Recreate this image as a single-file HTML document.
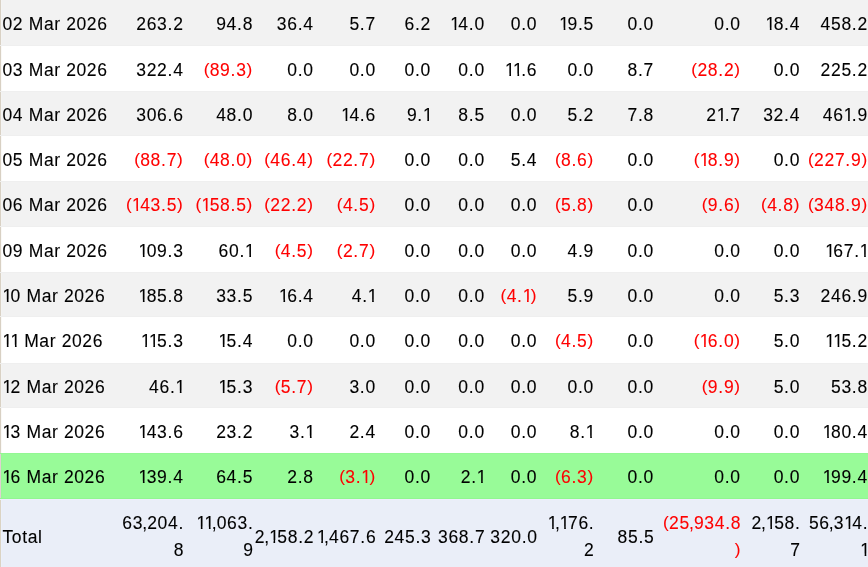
<!DOCTYPE html><html><head><meta charset='utf-8'><title>Daily table</title><style>

html,body{margin:0;padding:0;background:#fff;}
body{width:868px;height:567px;overflow:hidden;position:relative;font-family:"Liberation Sans",Arial,sans-serif;font-size:17.5px;letter-spacing:0.72px;color:#000;-webkit-text-stroke:0.1px currentColor}
table{position:absolute;left:0;top:0;border-collapse:collapse;table-layout:fixed;width:868.9px;}
td{padding:0 1.0px 0 0;text-align:right;vertical-align:top;white-space:nowrap;line-height:27px;overflow:visible}
td.d{text-align:left;padding-left:2.5px;letter-spacing:0.62px}
tr.g td{background-color:#f2f2f2}
tr.w td{background-color:#fff}
tr.hl td{background-color:#98fb98}
tr.t td{background-color:#eaeef8;vertical-align:middle;padding-right:0.5px}
tr.g td.d{background-image:linear-gradient(to right,#d9d1c4 0,#d9d1c4 1px,#f4f4f3 1px,#f4f4f3 2px,transparent 2px)}
tr.w td.d{background-image:linear-gradient(to right,#d8d0c3 0,#d8d0c3 1px,#faf9f7 1px,#faf9f7 2px,transparent 2px)}
tr.hl td.d{background-image:linear-gradient(to right,#dfd1d0 0,#dfd1d0 1px,#97f897 1px,#97f897 2px,transparent 2px)}
tr.t td.d{background-image:linear-gradient(to right,#dbd3c3 0,#dbd3c3 1px,#ebf0fb 1px,#ebf0fb 2px,transparent 2px)}
tr.g td{box-shadow:inset 0 1px 0 #efefef,inset 0 -1px 0 #efefef}
tr.g.first td{box-shadow:inset 0 -1px 0 #efefef}
tr.hl td{box-shadow:inset 0 1px 0 #93f793,inset 0 -1px 0 #91f691}
tr.t td{box-shadow:inset 0 1px 0 #eeeffc}
.n{color:#ff0000}
.p.q{letter-spacing:0.75px}
.c{margin-left:-1.0px;letter-spacing:0.1px}
.p{font-size:17.2px;position:relative;top:-1.4px;letter-spacing:0.3px}
.o{display:inline-block;width:8.1px;letter-spacing:0;text-indent:0}
.o b{display:inline-block;font-weight:normal;clip-path:polygon(0 0,100% 0,100% 16.8px,6.0px 16.8px,6.0px 100%,4.35px 100%,4.35px 16.8px,0 16.8px);margin-left:0px}

</style></head><body>
<table><colgroup><col style='width:119.00px'><col style='width:65.60px'><col style='width:69.50px'><col style='width:60.60px'><col style='width:62.20px'><col style='width:55.20px'><col style='width:53.80px'><col style='width:52.40px'><col style='width:56.70px'><col style='width:60.00px'><col style='width:86.90px'><col style='width:59.30px'><col style='width:67.70px'></colgroup><tbody>
<tr class='g first' style='height:46px'>
<td class='d' style='padding-top:11px;height:35px'>02 Mar 2026</td>
<td style='padding-top:11px'>263.2</td>
<td style='padding-top:11px'>94.8</td>
<td style='padding-top:11px'>36.4</td>
<td style='padding-top:11px'>5.7</td>
<td style='padding-top:11px'>6.2</td>
<td style='padding-top:11px'><span class='o'><b>1</b></span>4.0</td>
<td style='padding-top:11px'>0.0</td>
<td style='padding-top:11px'><span class='o'><b>1</b></span>9.5</td>
<td style='padding-top:11px'>0.0</td>
<td style='padding-top:11px'>0.0</td>
<td style='padding-top:11px'><span class='o'><b>1</b></span>8.4</td>
<td style='padding-top:11px'>458.2</td>
</tr>
<tr class='w' style='height:45px'>
<td class='d' style='padding-top:11px;height:34px'>03 Mar 2026</td>
<td style='padding-top:11px'>322.4</td>
<td class='n' style='padding-top:11px'><span class='p'>(</span>89.3<span class='p q'>)</span></td>
<td style='padding-top:11px'>0.0</td>
<td style='padding-top:11px'>0.0</td>
<td style='padding-top:11px'>0.0</td>
<td style='padding-top:11px'>0.0</td>
<td style='padding-top:11px'><span class='o'><b>1</b></span><span class='o'><b>1</b></span>.6</td>
<td style='padding-top:11px'>0.0</td>
<td style='padding-top:11px'>8.7</td>
<td class='n' style='padding-top:11px'><span class='p'>(</span>28.2<span class='p q'>)</span></td>
<td style='padding-top:11px'>0.0</td>
<td style='padding-top:11px'>225.2</td>
</tr>
<tr class='g' style='height:45px'>
<td class='d' style='padding-top:11px;height:34px'>04 Mar 2026</td>
<td style='padding-top:11px'>306.6</td>
<td style='padding-top:11px'>48.0</td>
<td style='padding-top:11px'>8.0</td>
<td style='padding-top:11px'><span class='o'><b>1</b></span>4.6</td>
<td style='padding-top:11px'>9.<span class='o'><b>1</b></span></td>
<td style='padding-top:11px'>8.5</td>
<td style='padding-top:11px'>0.0</td>
<td style='padding-top:11px'>5.2</td>
<td style='padding-top:11px'>7.8</td>
<td style='padding-top:11px'>2<span class='o'><b>1</b></span>.7</td>
<td style='padding-top:11px'>32.4</td>
<td style='padding-top:11px'>46<span class='o'><b>1</b></span>.9</td>
</tr>
<tr class='w' style='height:45px'>
<td class='d' style='padding-top:11px;height:34px'>05 Mar 2026</td>
<td class='n' style='padding-top:11px'><span class='p'>(</span>88.7<span class='p q'>)</span></td>
<td class='n' style='padding-top:11px'><span class='p'>(</span>48.0<span class='p q'>)</span></td>
<td class='n' style='padding-top:11px'><span class='p'>(</span>46.4<span class='p q'>)</span></td>
<td class='n' style='padding-top:11px'><span class='p'>(</span>22.7<span class='p q'>)</span></td>
<td style='padding-top:11px'>0.0</td>
<td style='padding-top:11px'>0.0</td>
<td style='padding-top:11px'>5.4</td>
<td class='n' style='padding-top:11px'><span class='p'>(</span>8.6<span class='p q'>)</span></td>
<td style='padding-top:11px'>0.0</td>
<td class='n' style='padding-top:11px'><span class='p'>(</span><span class='o'><b>1</b></span>8.9<span class='p q'>)</span></td>
<td style='padding-top:11px'>0.0</td>
<td class='n' style='padding-top:11px'><span class='p'>(</span>227.9<span class='p q'>)</span></td>
</tr>
<tr class='g' style='height:46px'>
<td class='d' style='padding-top:11px;height:35px'>06 Mar 2026</td>
<td class='n' style='padding-top:11px'><span class='p'>(</span><span class='o'><b>1</b></span>43.5<span class='p q'>)</span></td>
<td class='n' style='padding-top:11px'><span class='p'>(</span><span class='o'><b>1</b></span>58.5<span class='p q'>)</span></td>
<td class='n' style='padding-top:11px'><span class='p'>(</span>22.2<span class='p q'>)</span></td>
<td class='n' style='padding-top:11px'><span class='p'>(</span>4.5<span class='p q'>)</span></td>
<td style='padding-top:11px'>0.0</td>
<td style='padding-top:11px'>0.0</td>
<td style='padding-top:11px'>0.0</td>
<td class='n' style='padding-top:11px'><span class='p'>(</span>5.8<span class='p q'>)</span></td>
<td style='padding-top:11px'>0.0</td>
<td class='n' style='padding-top:11px'><span class='p'>(</span>9.6<span class='p q'>)</span></td>
<td class='n' style='padding-top:11px'><span class='p'>(</span>4.8<span class='p q'>)</span></td>
<td class='n' style='padding-top:11px'><span class='p'>(</span>348.9<span class='p q'>)</span></td>
</tr>
<tr class='w' style='height:45px'>
<td class='d' style='padding-top:11px;height:34px'>09 Mar 2026</td>
<td style='padding-top:11px'><span class='o'><b>1</b></span>09.3</td>
<td style='padding-top:11px'>60.<span class='o'><b>1</b></span></td>
<td class='n' style='padding-top:11px'><span class='p'>(</span>4.5<span class='p q'>)</span></td>
<td class='n' style='padding-top:11px'><span class='p'>(</span>2.7<span class='p q'>)</span></td>
<td style='padding-top:11px'>0.0</td>
<td style='padding-top:11px'>0.0</td>
<td style='padding-top:11px'>0.0</td>
<td style='padding-top:11px'>4.9</td>
<td style='padding-top:11px'>0.0</td>
<td style='padding-top:11px'>0.0</td>
<td style='padding-top:11px'>0.0</td>
<td style='padding-top:11px'><span class='o'><b>1</b></span>67.<span class='o'><b>1</b></span></td>
</tr>
<tr class='g' style='height:45px'>
<td class='d' style='padding-top:11px;height:34px'><span class='o'><b>1</b></span>0 Mar 2026</td>
<td style='padding-top:11px'><span class='o'><b>1</b></span>85.8</td>
<td style='padding-top:11px'>33.5</td>
<td style='padding-top:11px'><span class='o'><b>1</b></span>6.4</td>
<td style='padding-top:11px'>4.<span class='o'><b>1</b></span></td>
<td style='padding-top:11px'>0.0</td>
<td style='padding-top:11px'>0.0</td>
<td class='n' style='padding-top:11px'><span class='p'>(</span>4.<span class='o'><b>1</b></span><span class='p q'>)</span></td>
<td style='padding-top:11px'>5.9</td>
<td style='padding-top:11px'>0.0</td>
<td style='padding-top:11px'>0.0</td>
<td style='padding-top:11px'>5.3</td>
<td style='padding-top:11px'>246.9</td>
</tr>
<tr class='w' style='height:46px'>
<td class='d' style='padding-top:11px;height:35px'><span class='o'><b>1</b></span><span class='o'><b>1</b></span> Mar 2026</td>
<td style='padding-top:11px'><span class='o'><b>1</b></span><span class='o'><b>1</b></span>5.3</td>
<td style='padding-top:11px'><span class='o'><b>1</b></span>5.4</td>
<td style='padding-top:11px'>0.0</td>
<td style='padding-top:11px'>0.0</td>
<td style='padding-top:11px'>0.0</td>
<td style='padding-top:11px'>0.0</td>
<td style='padding-top:11px'>0.0</td>
<td class='n' style='padding-top:11px'><span class='p'>(</span>4.5<span class='p q'>)</span></td>
<td style='padding-top:11px'>0.0</td>
<td class='n' style='padding-top:11px'><span class='p'>(</span><span class='o'><b>1</b></span>6.0<span class='p q'>)</span></td>
<td style='padding-top:11px'>5.0</td>
<td style='padding-top:11px'><span class='o'><b>1</b></span><span class='o'><b>1</b></span>5.2</td>
</tr>
<tr class='g' style='height:45px'>
<td class='d' style='padding-top:11px;height:34px'><span class='o'><b>1</b></span>2 Mar 2026</td>
<td style='padding-top:11px'>46.<span class='o'><b>1</b></span></td>
<td style='padding-top:11px'><span class='o'><b>1</b></span>5.3</td>
<td class='n' style='padding-top:11px'><span class='p'>(</span>5.7<span class='p q'>)</span></td>
<td style='padding-top:11px'>3.0</td>
<td style='padding-top:11px'>0.0</td>
<td style='padding-top:11px'>0.0</td>
<td style='padding-top:11px'>0.0</td>
<td style='padding-top:11px'>0.0</td>
<td style='padding-top:11px'>0.0</td>
<td class='n' style='padding-top:11px'><span class='p'>(</span>9.9<span class='p q'>)</span></td>
<td style='padding-top:11px'>5.0</td>
<td style='padding-top:11px'>53.8</td>
</tr>
<tr class='w' style='height:45px'>
<td class='d' style='padding-top:11px;height:34px'><span class='o'><b>1</b></span>3 Mar 2026</td>
<td style='padding-top:11px'><span class='o'><b>1</b></span>43.6</td>
<td style='padding-top:11px'>23.2</td>
<td style='padding-top:11px'>3.<span class='o'><b>1</b></span></td>
<td style='padding-top:11px'>2.4</td>
<td style='padding-top:11px'>0.0</td>
<td style='padding-top:11px'>0.0</td>
<td style='padding-top:11px'>0.0</td>
<td style='padding-top:11px'>8.<span class='o'><b>1</b></span></td>
<td style='padding-top:11px'>0.0</td>
<td style='padding-top:11px'>0.0</td>
<td style='padding-top:11px'>0.0</td>
<td style='padding-top:11px'><span class='o'><b>1</b></span>80.4</td>
</tr>
<tr class='hl' style='height:46px'>
<td class='d' style='padding-top:11px;height:35px'><span class='o'><b>1</b></span>6 Mar 2026</td>
<td style='padding-top:11px'><span class='o'><b>1</b></span>39.4</td>
<td style='padding-top:11px'>64.5</td>
<td style='padding-top:11px'>2.8</td>
<td class='n' style='padding-top:11px'><span class='p'>(</span>3.<span class='o'><b>1</b></span><span class='p q'>)</span></td>
<td style='padding-top:11px'>0.0</td>
<td style='padding-top:11px'>2.<span class='o'><b>1</b></span></td>
<td style='padding-top:11px'>0.0</td>
<td class='n' style='padding-top:11px'><span class='p'>(</span>6.3<span class='p q'>)</span></td>
<td style='padding-top:11px'>0.0</td>
<td style='padding-top:11px'>0.0</td>
<td style='padding-top:11px'>0.0</td>
<td style='padding-top:11px'><span class='o'><b>1</b></span>99.4</td>
</tr>
<tr class='t' style='height:75px'><td class='d' style='padding-top:1px'>Total</td>
<td style='padding-top:1px'>63<span class='c'>,</span>204.<br>8</td>
<td style='padding-top:1px'><span class='o'><b>1</b></span><span class='o'><b>1</b></span><span class='c'>,</span>063.<br>9</td>
<td style='padding-top:1px'>2<span class='c'>,</span><span class='o'><b>1</b></span>58.2</td>
<td style='padding-top:1px'><span class='o'><b>1</b></span><span class='c'>,</span>467.6</td>
<td style='padding-top:1px'>245.3</td>
<td style='padding-top:1px'>368.7</td>
<td style='padding-top:1px'>320.0</td>
<td style='padding-top:1px'><span class='o'><b>1</b></span><span class='c'>,</span><span class='o'><b>1</b></span>76.<br>2</td>
<td style='padding-top:1px'>85.5</td>
<td class='n' style='padding-top:1px'><span class='p'>(</span>25<span class='c'>,</span>934.8<br><span class='p q'>)</span></td>
<td style='padding-top:1px'>2<span class='c'>,</span><span class='o'><b>1</b></span>58.<br>7</td>
<td style='padding-top:1px'>56<span class='c'>,</span>3<span class='o'><b>1</b></span>4.<br><span class='o'><b>1</b></span></td>
</tr></tbody></table></body></html>
